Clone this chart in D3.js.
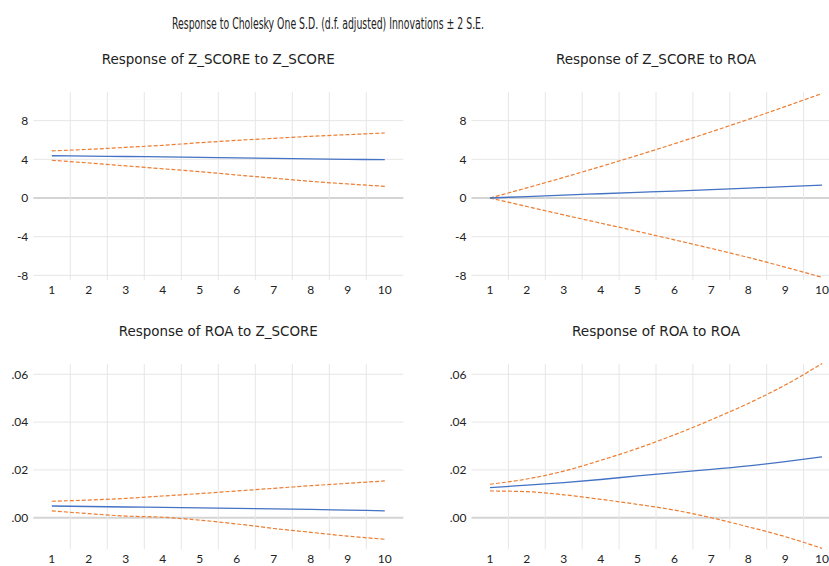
<!DOCTYPE html>
<html>
<head>
<meta charset="utf-8">
<script src="https://cdn.jsdelivr.net/npm/d3@7"></script>
<style>
  body { margin: 0; background: #fff; overflow: hidden; }
  text { font-family: Lato, "Noto Sans", sans-serif; fill: #222; }
  .title { font-family: "Liberation Sans Narrow", "DejaVu Sans Condensed", Lato, sans-serif; }
</style>
</head>
<body>
<div id="chart-area"></div>
<script>
// periods on the x axis
const periods = ['1', '2', '3', '4', '5', '6', '7', '8', '9', '10']

// Z_SCORE to Z_SCORE
const zzResp  = [4.37, 4.33, 4.29, 4.25, 4.20, 4.15, 4.10, 4.05, 4.00, 3.96]
const zzUpper = [4.87, 5.03, 5.24, 5.45, 5.72, 5.96, 6.17, 6.38, 6.55, 6.72]
const zzLower = [3.90, 3.62, 3.32, 3.02, 2.72, 2.38, 2.05, 1.72, 1.45, 1.21]

// Z_SCORE to ROA
const zrResp  = [0.00, 0.15, 0.30, 0.44, 0.58, 0.72, 0.87, 1.02, 1.18, 1.34]
const zrUpper = [0.00, 1.05, 2.13, 3.25, 4.41, 5.61, 6.85, 8.13, 9.45, 10.81]
const zrLower = [0.00, -0.88, -1.75, -2.60, -3.45, -4.33, -5.22, -6.15, -7.15, -8.20]

// ROA to Z_SCORE
const rzResp  = [0.0049, 0.0047, 0.0045, 0.0043, 0.0041, 0.0039, 0.0037, 0.0035, 0.0032, 0.0029]
const rzUpper = [0.0069, 0.0074, 0.0081, 0.0091, 0.0101, 0.0112, 0.0123, 0.0134, 0.0144, 0.0154]
const rzLower = [0.0029, 0.0017, 0.0007, 0.0002, -0.0010, -0.0026, -0.0045, -0.0061, -0.0077, -0.0090]

// ROA to ROA
const rrResp  = [0.0126, 0.0136, 0.0147, 0.0160, 0.0175, 0.0189, 0.0202, 0.0217, 0.0235, 0.0255]
const rrUpper = [0.0140, 0.0162, 0.0195, 0.0240, 0.0290, 0.0347, 0.0410, 0.0478, 0.0555, 0.0645]
const rrLower = [0.0112, 0.0109, 0.0096, 0.0077, 0.0056, 0.0032, 0.0000, -0.0038, -0.0079, -0.0128]

// y ticks
const zTicks = [-8, -4, 0, 4, 8]
const zTickLabels = ['-8', '-4', '0', '4', '8']
const rTicks = [0, 0.02, 0.04, 0.06]
const rTickLabels = ['.00', '.02', '.04', '.06']

const mainTitle = 'Response to Cholesky One S.D. (d.f. adjusted) Innovations \u00b1 2 S.E.'

const panels = [
  {title: 'Response of Z_SCORE to Z_SCORE', resp: zzResp, up: zzUpper, lo: zzLower,
   ticks: zTicks, labels: zTickLabels, dom: [-8.48, 10.96], x: [33.3, 403.3], y: [92, 280], tw: 233},
  {title: 'Response of Z_SCORE to ROA', resp: zrResp, up: zrUpper, lo: zrLower,
   ticks: zTicks, labels: zTickLabels, dom: [-8.48, 10.96], x: [471.5, 840.5], y: [92, 280], tw: 200},
  {title: 'Response of ROA to Z_SCORE', resp: rzResp, up: rzUpper, lo: rzLower,
   ticks: rTicks, labels: rTickLabels, dom: [-0.0132, 0.0643], x: [33.3, 403.3], y: [364, 549.3], tw: 199},
  {title: 'Response of ROA to ROA', resp: rrResp, up: rrUpper, lo: rrLower,
   ticks: rTicks, labels: rTickLabels, dom: [-0.0132, 0.0643], x: [471.5, 840.5], y: [364, 549.3], tw: 168}
]

const svg = d3.select('#chart-area').append('svg')
  .attr('width', 829)
  .attr('height', 566)

svg.append('text')
  .attr('class', 'title')
  .attr('x', 328)
  .attr('y', 29)
  .attr('text-anchor', 'middle')
  .attr('font-size', 15)
  .attr('textLength', 312)
  .attr('lengthAdjust', 'spacingAndGlyphs')
  .text(mainTitle)

panels.forEach(p => {
  const x = d3.scaleBand().domain(periods).range(p.x).padding(0)
  const y = d3.scaleLinear().domain(p.dom).range([p.y[1], p.y[0]])
  const g = svg.append('g')

  // horizontal grid
  g.selectAll('.hgrid').data(p.ticks).enter().append('line')
    .attr('x1', p.x[0]).attr('x2', p.x[1])
    .attr('y1', d => y(d)).attr('y2', d => y(d))
    .attr('stroke', d => d === 0 ? '#d4d4d4' : '#e6e6e6')
    .attr('stroke-width', d => d === 0 ? 2 : 1)

  // vertical grid between periods
  g.selectAll('.vgrid').data(periods.slice(1)).enter().append('line')
    .attr('x1', d => x(d)).attr('x2', d => x(d))
    .attr('y1', p.y[0]).attr('y2', p.y[1])
    .attr('stroke', '#e6e6e6')
    .attr('stroke-width', 1)

  // y axis labels
  const yAxis = d3.axisLeft(y).tickValues(p.ticks)
    .tickFormat((d, i) => p.labels[i]).tickSize(0).tickPadding(5)
  g.append('g')
    .attr('transform', `translate(${p.x[0]},0)`)
    .call(yAxis)
    .call(a => a.select('.domain').remove())
    .selectAll('text')
      .attr('font-size', 12)
      .style('font-family', 'Lato, "Noto Sans", sans-serif')
      .attr('fill', '#222')

  // x axis labels
  const xAxis = d3.axisBottom(x).tickSize(0).tickPadding(0)
  g.append('g')
    .attr('transform', `translate(0,${p.y[1] + 5})`)
    .call(xAxis)
    .call(a => a.select('.domain').remove())
    .selectAll('text')
      .attr('font-size', 12)
      .attr('dy', '0.71em')
      .style('font-family', 'Lato, "Noto Sans", sans-serif')
      .attr('fill', '#222')

  const line = d3.line()
    .x((d, i) => x(periods[i]) + x.bandwidth() / 2)
    .y(d => y(d))
    .curve(d3.curveMonotoneX)

  g.append('path').datum(p.up).attr('d', line)
    .attr('fill', 'none').attr('stroke', '#ED7D31').attr('stroke-width', 1.2)
    .attr('stroke-dasharray', '4,2')
  g.append('path').datum(p.lo).attr('d', line)
    .attr('fill', 'none').attr('stroke', '#ED7D31').attr('stroke-width', 1.2)
    .attr('stroke-dasharray', '4,2')
  g.append('path').datum(p.resp).attr('d', line)
    .attr('fill', 'none').attr('stroke', '#4472C4').attr('stroke-width', 1.3)

  g.append('text')
    .attr('class', 'title')
    .attr('x', (p.x[0] + p.x[1]) / 2)
    .attr('y', p.y[0] - 28.5)
    .attr('text-anchor', 'middle')
    .attr('font-size', 13.5)
    .attr('textLength', p.tw)
    .attr('lengthAdjust', 'spacingAndGlyphs')
    .text(p.title)
})
</script>
</body>
</html>
